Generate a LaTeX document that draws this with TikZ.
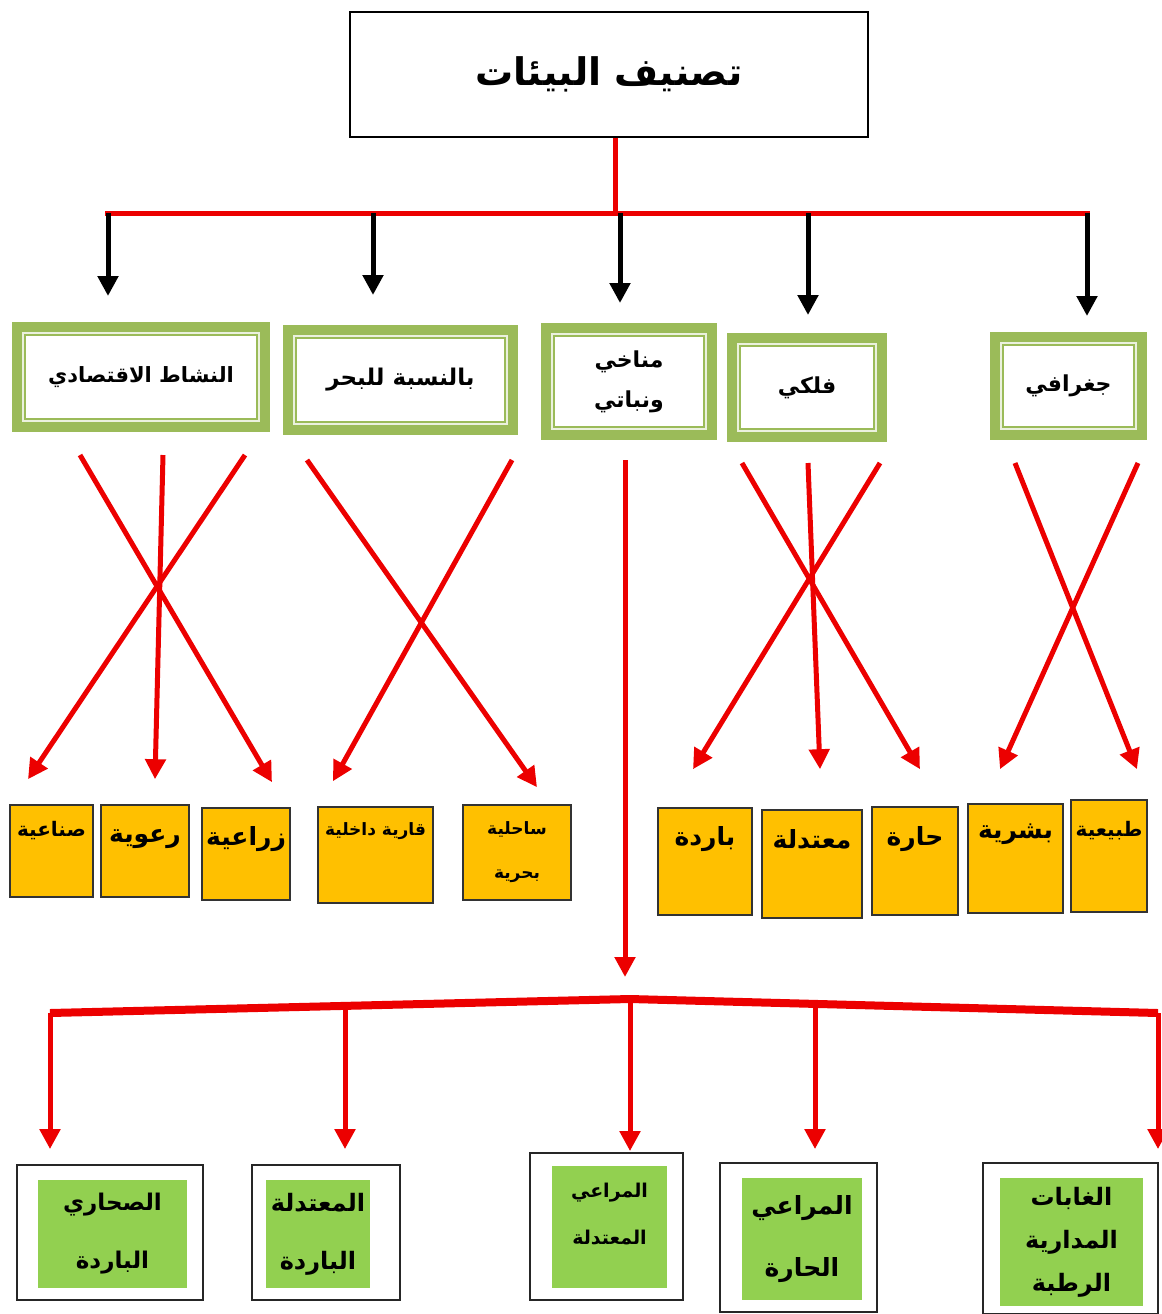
\documentclass[tikz,border=0pt]{standalone}
\usepackage{fontspec}
\newfontfamily\arabicfont[Script=Arabic]{DejaVu Sans}
\TeXXeTstate=1
\usetikzlibrary{arrows.meta}
\definecolor{lineRed}{RGB}{236,0,0}
\definecolor{frameGreen}{RGB}{155,187,89}
\definecolor{paleGreen}{RGB}{235,241,222}
\definecolor{boxYellow}{RGB}{255,192,0}
\definecolor{leafGreen}{RGB}{146,208,80}
\newcommand{\artext}[1]{\beginR#1\endR}
\newcommand{\fs}[2]{\arabicfont\bfseries\fontsize{#1}{#2}\selectfont}
\tikzset{
	wh/.style 2 args={minimum width=#1*0.5pt,minimum height=#2*0.5pt},
	ytop/.style 2 args={text height=#1pt,text depth=#2pt},
	frm/.style={draw=frameGreen,line width=5pt,fill=paleGreen,font=\fs{11}{20},
		path picture={\draw[frameGreen,line width=1pt,fill=white]
			([xshift=4pt,yshift=4pt]path picture bounding box.south west) rectangle
			([xshift=-4pt,yshift=-4pt]path picture bounding box.north east);}},
	ybox/.style={draw=black!80,line width=0.8pt,fill=boxYellow},
	big/.style={font=\fs{12.5}{16}},
	small/.style={font=\fs{10}{22}},
	tiny/.style={font=\fs{8.5}{22}},
	obox/.style={draw=black!85,line width=0.9pt,fill=white},
	gbox/.style={fill=leafGreen,align=center},
	redarr/.style={->,lineRed,line width=2.5pt},
	blkarr/.style={->,black,line width=2.5pt}
}

\begin{document}
\begin{tikzpicture}
	[x=0.5pt,y=-0.5pt,>={Triangle[width=10pt,length=10pt]},
	every node/.style={inner sep=0pt,font=\arabicfont\bfseries}]
	\useasboundingbox (0,0) rectangle (1162,1314);

	% title
	\node[draw,line width=0.8pt,wh={518}{125},font=\fs{19}{24}] (title) at (609,74.5) {\artext{تصنيف البيئات}};

	% second level
	\node[frm,wh={248}{100},font=\fs{10.5}{20}] (act) at (141,377) {\artext{النشاط الاقتصادي}};
	\node[frm,wh={225}{100},font=\fs{11.5}{20}] (sea) at (400.5,380) {\artext{بالنسبة للبحر}};
	\node[frm,wh={166}{107},align=center] (clim) at (629,381.5) {\artext{مناخي}\\\artext{ونباتي}};
	\node[frm,wh={150}{99}] (astro) at (807,387.5) {\artext{فلكي}};
	\node[frm,wh={147}{98}] (geo) at (1068.5,386) {\artext{جغرافي}};

	% yellow boxes
	\node[ybox,small,wh={83}{92},ytop={15.5}{30.5}] (ind) at (51.5,851) {\artext{صناعية}};
	\node[ybox,big,wh={88}{92},ytop={18.5}{27.5}] (past) at (145,851) {\artext{رعوية}};
	\node[ybox,big,wh={88}{92},ytop={18.5}{27.5}] (agri) at (246,854) {\artext{زراعية}};
	\node[ybox,tiny,wh={115}{96},ytop={14}{34}] (cont) at (375.5,855) {\artext{قارية داخلية}};
	\node[ybox,tiny,wh={108}{95},align=center] (coast) at (517,852.5) {\artext{ساحلية}\\\artext{بحرية}};
	\node[ybox,big,wh={94}{107},ytop={18.5}{35}] (cold) at (705,861.5) {\artext{باردة}};
	\node[ybox,big,wh={100}{108},ytop={19}{35}] (tempy) at (812,864) {\artext{معتدلة}};
	\node[ybox,big,wh={86}{108},ytop={19}{35}] (hot) at (915,861) {\artext{حارة}};
	\node[ybox,big,wh={95}{109},ytop={17}{37.5}] (human) at (1015.5,858.5) {\artext{بشرية}};
	\node[ybox,small,wh={76}{112},ytop={18}{38}] (natural) at (1109,856) {\artext{طبيعية}};

	% bottom boxes
	\node[obox,wh={186}{135}] (o1) at (110,1232.5) {};
	\node[obox,wh={148}{135}] (o2) at (326,1232.5) {};
	\node[obox,wh={153}{147}] (o3) at (606.5,1226.5) {};
	\node[obox,wh={157}{149}] (o4) at (798.5,1237.5) {};
	\node[obox,wh={175}{151}] (o5) at (1070.5,1238.5) {};
	\node[gbox,wh={149}{108},font=\fs{11.5}{29}] (g1) at (112.5,1234) {\artext{الصحاري}\\\artext{الباردة}};
	\node[gbox,wh={104}{108},font=\fs{12}{29}] (g2) at (318,1234) {\artext{المعتدلة}\\\artext{الباردة}};
	\node[gbox,wh={115}{122},font=\fs{9.5}{23.5}] (g3) at (609.5,1227) {\artext{المراعي}\\\artext{المعتدلة}\\[-10pt]\mbox{}};
	\node[gbox,wh={120}{122},font=\fs{12.5}{31}] (g4) at (802,1239) {\artext{المراعي}\\\artext{الحارة}};
	\node[gbox,wh={143}{128},font=\fs{12}{21.5}] (g5) at (1071.5,1242) {\artext{الغابات}\\\artext{المدارية}\\\artext{الرطبة}};

	% connectors
	\coordinate (t0) at (615,213);
	\coordinate (tl) at (105,213);
	\coordinate (tr) at (1090,213);
	\coordinate (t1) at (108,213);
	\coordinate (t2) at (373,213);
	\coordinate (t3) at (620,213);
	\coordinate (t4) at (808,213);
	\coordinate (t5) at (1087,213);
	\draw[lineRed,line width=2.5pt] (title.south -| t0) -- (t0);
	\draw[lineRed,line width=2.5pt] (tl) -- (tr);
	\foreach \c/\n/\s in {t1/act/13,t2/sea/15,t3/clim/10,t4/astro/9,t5/geo/8}
	\draw[blkarr,shorten >=\s pt] (\c) -- (\c |- \n.north);

	\foreach \s/\sx/\sy/\t/\tx/\ty in {act/-61/23/agri/26/-25,act/22/23/past/10/-25,act/104/23/ind/-23.5/-25,
		sea/-93.5/25/coast/20/-17,sea/111.5/25/cont/-42.5/-25,
		astro/-65/21/hot/5/-37,astro/1/21/tempy/8/-40,astro/73/21/cold/-12/-38,
		geo/-53.5/23/natural/28/-30,geo/69.5/23/human/-15.5/-34}
	\draw[redarr] ([shift={(\sx,\sy)}]\s.south) -- ([shift={(\tx,\ty)}]\t.north);

	\coordinate (m) at (625,977);
	\draw[redarr] ([shift={(-4,20)}]clim.south) -- (m);

	\coordinate (b1) at (50,1013);
	\coordinate (b2) at (345,1006);
	\coordinate (b3) at (630,999);
	\coordinate (b4) at (815,1004);
	\coordinate (b5) at (1158,1013);
	\draw[lineRed,line width=4pt] (b1) -- (b3) -- (b5);
	\foreach \c/\n/\s in {b1/o1/7.5,b2/o2/7.5,b3/o3/0.5,b4/o4/6.5,b5/o5/6.5}
	\draw[redarr,shorten >=\s pt] (\c) -- (\c |- \n.north);
\end{tikzpicture}
\end{document}
